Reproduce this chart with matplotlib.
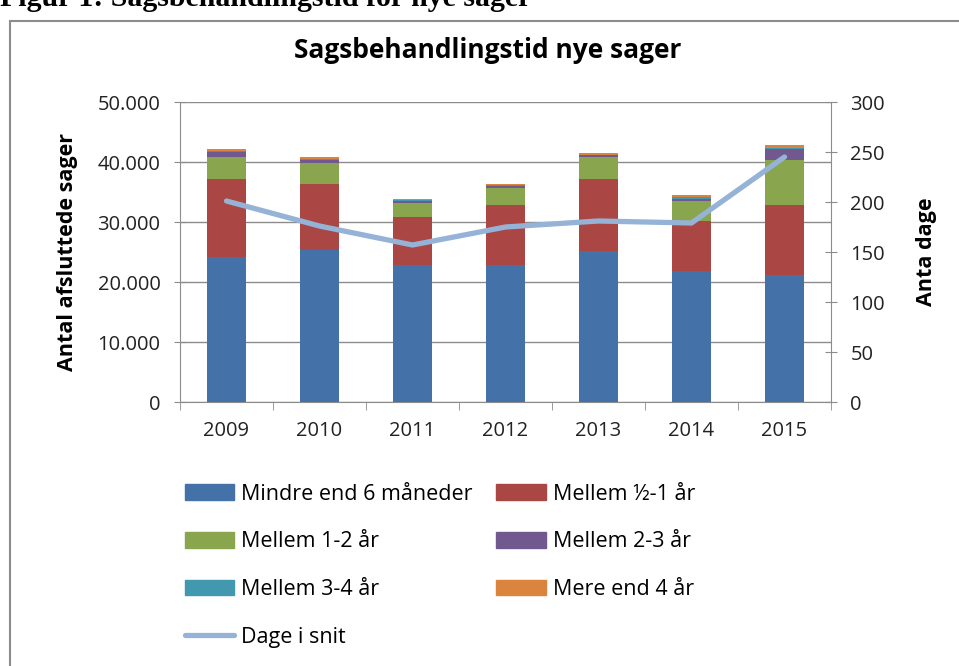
import numpy as np
import matplotlib
matplotlib.use("Agg")
import matplotlib.pyplot as plt
from matplotlib.patches import Rectangle, Patch
from matplotlib.lines import Line2D
from matplotlib.ticker import FuncFormatter, MultipleLocator

plt.rcParams['font.family'] = ['Open Sans', 'DejaVu Sans']

years = ["2009", "2010", "2011", "2012", "2013", "2014", "2015"]

# antal sager pr. kategori (stablet)
mindre_6_mdr = [24100, 25400, 22800, 22800, 25100, 21800, 21100]
mellem_halv_1 = [13000, 11000, 8000, 10000, 12000, 8400, 11700]
mellem_1_2 = [3700, 3400, 2300, 2900, 3700, 3300, 7600]
mellem_2_3 = [900, 600, 400, 300, 300, 400, 1700]
mellem_3_4 = [150, 150, 100, 100, 100, 300, 300]
mere_4 = [250, 350, 200, 300, 300, 300, 400]

# gennemsnitlig sagsbehandlingstid (dage)
dage_i_snit = [201, 176, 157, 175, 181, 179, 245]

series = [
    ("Mindre end 6 måneder", mindre_6_mdr, "#4472A8"),
    ("Mellem ½-1 år", mellem_halv_1, "#AA4643"),
    ("Mellem 1-2 år", mellem_1_2, "#89A54E"),
    ("Mellem 2-3 år", mellem_2_3, "#71588F"),
    ("Mellem 3-4 år", mellem_3_4, "#4198AF"),
    ("Mere end 4 år", mere_4, "#DB843D"),
]
line_color = "#95B3D7"
grid_color = "#8C8C8C"

fig = plt.figure(figsize=(9.59, 6.66), dpi=100)
ax = fig.add_axes([180 / 959, 1 - 402 / 666, 651 / 959, 300 / 666])

x = np.arange(len(years))
bottom = np.zeros(len(years))
for name, vals, col in series:
    ax.bar(x, vals, width=0.41, bottom=bottom, color=col, zorder=3, label=name)
    bottom += np.array(vals)

ax.set_xlim(-0.5, len(years) - 0.5)
ax.set_ylim(0, 50000)
ax.yaxis.set_major_locator(MultipleLocator(10000))
ax.yaxis.set_major_formatter(FuncFormatter(lambda v, p: f"{int(v):,}".replace(",", ".")))
ax.yaxis.grid(True, color=grid_color, linewidth=1.0, zorder=0)
ax.set_xticks(x)
ax.set_xticklabels(years)
ax.set_xticks(np.arange(-0.5, len(years)), minor=True)
ax.tick_params(axis="x", which="major", length=0, pad=14, labelsize=14.5, colors="#222222")
ax.tick_params(axis="x", which="minor", length=6, direction="out", color=grid_color)
ax.tick_params(axis="y", length=8, direction="inout", color=grid_color, pad=10,
               labelsize=14.5, labelcolor="#222222")
for s in ["top", "right"]:
    ax.spines[s].set_visible(False)
for s in ["left", "bottom"]:
    ax.spines[s].set_color(grid_color)
ax.set_ylabel("Antal afsluttede sager", fontsize=15.5, fontweight="bold", labelpad=14)

ax2 = ax.twinx()
ax2.plot(x, dage_i_snit, color=line_color, linewidth=3.8, zorder=5,
         solid_joinstyle="round", solid_capstyle="round")
ax2.set_ylim(0, 300)
ax2.yaxis.set_major_locator(MultipleLocator(50))
ax2.tick_params(axis="y", length=8, direction="inout", color=grid_color, pad=10,
                labelsize=14.5, labelcolor="#222222")
for s in ["top", "left", "bottom"]:
    ax2.spines[s].set_visible(False)
ax2.spines["right"].set_color(grid_color)
ax2.set_ylabel("Anta dage", fontsize=15.5, fontweight="bold", labelpad=22)

fig.text(488 / 959, 1 - 50 / 666, "Sagsbehandlingstid nye sager", fontsize=19,
         fontweight="bold", ha="center", va="center")

# legend, row-wise order via column-major fill
h = [Patch(color=c) for _, _, c in series]
lab = [n for n, _, _ in series]
line_h = Line2D([0], [0], color=line_color, linewidth=3.8, solid_capstyle="round")
handles = [h[0], h[2], h[4], line_h, h[1], h[3], h[5]]
labels = [lab[0], lab[2], lab[4], "Dage i snit", lab[1], lab[3], lab[5]]
fig.legend(handles, labels, ncol=2, loc="upper left", bbox_to_anchor=(176 / 959, 1 - 475 / 666),
           frameon=False, fontsize=15.5, handlelength=2.3, handleheight=0.75,
           handletextpad=0.33, columnspacing=1.1, labelspacing=1.24, borderaxespad=0)

# outer chart border and cut-off figure caption
fig.patches.append(Rectangle((10 / 959, -0.05), 1.0, 1 - 21 / 666 + 0.05, transform=fig.transFigure,
                             fill=False, edgecolor="#8C8C8C", linewidth=1.5))
fig.text(0, 1 + 15 / 666, "Figur 1: Sagsbehandlingstid for nye sager", fontsize=21.5,
         fontweight="bold", family="Liberation Serif", va="top", ha="left")

fig.savefig("out.png", dpi=100)
